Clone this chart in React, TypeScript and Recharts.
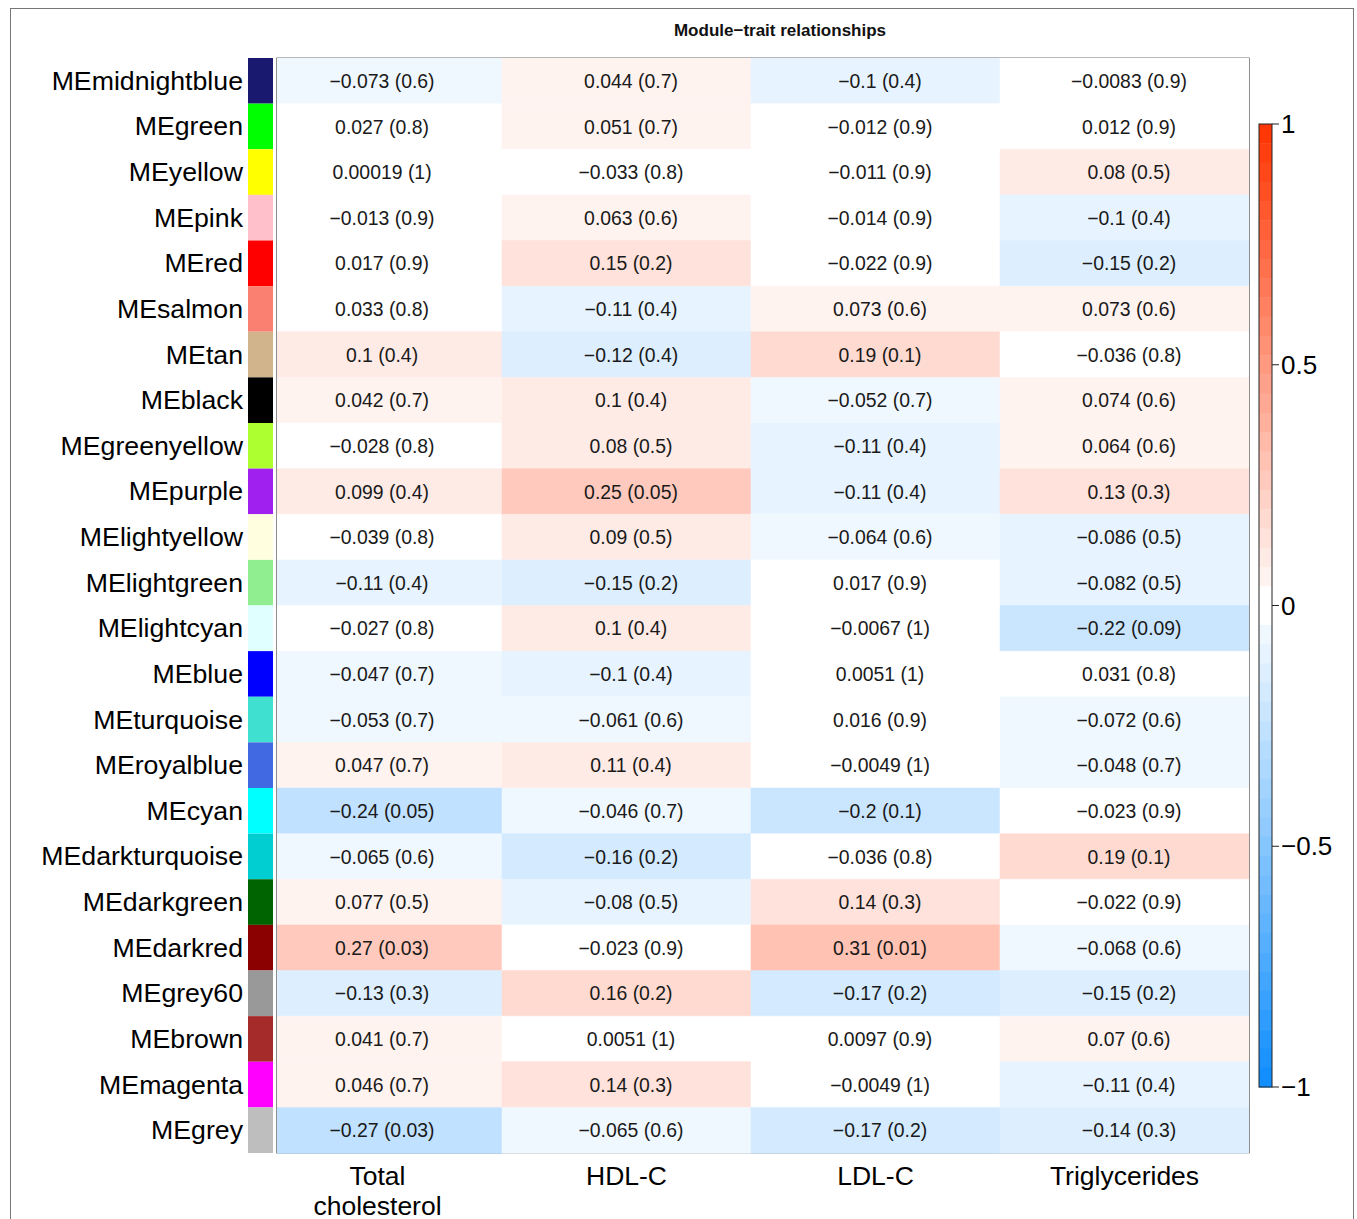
import React from 'react';
import { BarChart, Bar, XAxis, YAxis, Cell, LabelList, Legend, ReferenceArea } from 'recharts';

// module eigengenes, top to bottom
const modules = [
  'MEmidnightblue', 'MEgreen', 'MEyellow', 'MEpink', 'MEred', 'MEsalmon', 'MEtan', 'MEblack',
  'MEgreenyellow', 'MEpurple', 'MElightyellow', 'MElightgreen', 'MElightcyan', 'MEblue',
  'MEturquoise', 'MEroyalblue', 'MEcyan', 'MEdarkturquoise', 'MEdarkgreen', 'MEdarkred',
  'MEgrey60', 'MEbrown', 'MEmagenta', 'MEgrey',
];
const moduleColors = [
  '#191970', '#00FF00', '#FFFF00', '#FFC0CB', '#FF0000', '#FA8072', '#D2B48C', '#000000',
  '#ADFF2F', '#A020F0', '#FFFFE0', '#90EE90', '#E0FFFF', '#0000FF',
  '#40E0D0', '#4169E1', '#00FFFF', '#00CED1', '#006400', '#8B0000',
  '#999999', '#A52A2A', '#FF00FF', '#BEBEBE',
];
const traits = ['Total\ncholesterol', 'HDL-C', 'LDL-C', 'Triglycerides'];

const corTotal = [-0.073, 0.027, 0.00019, -0.013, 0.017, 0.033, 0.1, 0.042, -0.028, 0.099, -0.039, -0.11,
  -0.027, -0.047, -0.053, 0.047, -0.24, -0.065, 0.077, 0.27, -0.13, 0.041, 0.046, -0.27];
const pTotal = [0.6, 0.8, 1, 0.9, 0.9, 0.8, 0.4, 0.7, 0.8, 0.4, 0.8, 0.4,
  0.8, 0.7, 0.7, 0.7, 0.05, 0.6, 0.5, 0.03, 0.3, 0.7, 0.7, 0.03];
const corHDL = [0.044, 0.051, -0.033, 0.063, 0.15, -0.11, -0.12, 0.1, 0.08, 0.25, 0.09, -0.15,
  0.1, -0.1, -0.061, 0.11, -0.046, -0.16, -0.08, -0.023, 0.16, 0.0051, 0.14, -0.065];
const pHDL = [0.7, 0.7, 0.8, 0.6, 0.2, 0.4, 0.4, 0.4, 0.5, 0.05, 0.5, 0.2,
  0.4, 0.4, 0.6, 0.4, 0.7, 0.2, 0.5, 0.9, 0.2, 1, 0.3, 0.6];
const corLDL = [-0.1, -0.012, -0.011, -0.014, -0.022, 0.073, 0.19, -0.052, -0.11, -0.11, -0.064, 0.017,
  -0.0067, 0.0051, 0.016, -0.0049, -0.2, -0.036, 0.14, 0.31, -0.17, 0.0097, -0.0049, -0.17];
const pLDL = [0.4, 0.9, 0.9, 0.9, 0.9, 0.6, 0.1, 0.7, 0.4, 0.4, 0.6, 0.9,
  1, 1, 0.9, 1, 0.1, 0.8, 0.3, 0.01, 0.2, 0.9, 1, 0.2];
const corTG = [-0.0083, 0.012, 0.08, -0.1, -0.15, 0.073, -0.036, 0.074, 0.064, 0.13, -0.086, -0.082,
  -0.22, 0.031, -0.072, -0.048, -0.023, 0.19, -0.022, -0.068, -0.15, 0.07, -0.11, -0.14];
const pTG = [0.9, 0.9, 0.5, 0.4, 0.2, 0.6, 0.8, 0.6, 0.6, 0.3, 0.5, 0.5,
  0.09, 0.8, 0.6, 0.7, 0.9, 0.1, 0.9, 0.6, 0.2, 0.6, 0.4, 0.3];

const legendTicks = [1, 0.5, 0, -0.5, -1];

const columns = [
  { cor: corTotal, p: pTotal },
  { cor: corHDL, p: pHDL },
  { cor: corLDL, p: pLDL },
  { cor: corTG, p: pTG },
];

const W = 1357;
const H = 1219;
const PLOT_TOP = 58;
const PLOT_BOTTOM = 1153;
const ROW_H = (PLOT_BOTTOM - PLOT_TOP) / modules.length;
// the first column starts under the module colour strip, so the visible
// x range begins a bit after 0 (24px of a 249px column)
const X_MIN = 24 / 249;

// blueWhiteRed-like palette, 50 steps over [-1, 1]
const RED_END = [255, 51, 0];
const BLUE_END = [13, 140, 255];
function heatColor(v: number) {
  const k = Math.floor(Math.abs(v) / 0.04);
  const f = k === 0 ? 0 : Math.min(1, (k + 0.5) * 0.04);
  const end = v > 0 ? RED_END : BLUE_END;
  const c = end.map((e) => Math.round(255 + (e - 255) * f));
  return `rgb(${c[0]},${c[1]},${c[2]})`;
}

const fmt = (v: number) => (v < 0 ? '\u2212' : '') + String(Math.abs(v));

const rows = modules.map((name, i) => {
  const row: Record<string, string | number> = { name };
  columns.forEach((col, j) => {
    row[`c${j}`] = 1;
    row[`t${j}`] = `${fmt(col.cor[i])} (${col.p[i]})`;
  });
  return row;
});

const ModuleTick = (props: any) => {
  const { x, y, payload } = props;
  const idx = modules.indexOf(payload.value);
  return (
    <g>
      <rect x={x - 29} y={y - ROW_H / 2} width={25} height={ROW_H} fill={moduleColors[idx]} />
      <text x={x - 34} y={y} dy={9} textAnchor="end" fontSize={26.7} fill="#000">
        {payload.value}
      </text>
    </g>
  );
};

const TraitTick = (props: any) => {
  const { x, y, payload } = props;
  const idx = Math.floor(payload.value);
  const lines = traits[idx].split('\n');
  return (
    <text x={x} y={y} textAnchor="middle" fontSize={26.5} fill="#000">
      {lines.map((l, k) => (
        <tspan key={k} x={x} dy={k === 0 ? 32 : 30}>{l}</tspan>
      ))}
    </text>
  );
};

const ColorBar = () => {
  const top = 14;
  const barH = 963;
  const steps = Array.from({ length: 50 }, (_, i) => 1 - (i + 0.5) * 0.04);
  const yOf = (v: number) => top + ((1 - v) / 2) * barH;
  return (
    <svg width={107} height={1000}>
      {steps.map((v, i) => (
        <rect key={i} x={9} y={top + (i * barH) / 50} width={13} height={barH / 50 + 0.5} fill={heatColor(v)} />
      ))}
      <rect x={9} y={top} width={13} height={barH} fill="none" stroke="#222" strokeWidth={1} />
      {legendTicks.map((t) => (
        <g key={t}>
          <line x1={22} x2={29} y1={yOf(t)} y2={yOf(t)} stroke="#222" strokeWidth={1} />
          <text x={31} y={yOf(t)} dy={9} fontSize={26} fill="#000">{fmt(t)}</text>
        </g>
      ))}
    </svg>
  );
};

export default function App() {
  return (
    <div
      style={{
        position: 'absolute', left: 0, top: 0, width: W, height: H, overflow: 'hidden',
        background: '#fff', fontFamily: '"Liberation Sans", Arial, sans-serif',
      }}
    >
      <div
        style={{
          position: 'absolute', left: 10, top: 8, width: 1344, height: 1240,
          border: '1px solid #777', boxSizing: 'border-box',
        }}
      />
      <div
        style={{
          position: 'absolute', left: 580, top: 22, width: 400, textAlign: 'center',
          fontSize: 17, fontWeight: 'bold', lineHeight: '18px', color: '#111',
        }}
      >
        Module{'\u2212'}trait relationships
      </div>
      <BarChart
        width={W}
        height={H}
        data={rows}
        layout="vertical"
        barCategoryGap={0}
        margin={{ top: PLOT_TOP, right: 108, bottom: 0, left: 0 }}
      >
        <XAxis
          type="number"
          domain={[X_MIN, 4]}
          allowDataOverflow
          ticks={[0.5, 1.5, 2.5, 3.5]}
          height={H - PLOT_BOTTOM}
          axisLine={false}
          tickLine={false}
          tickSize={0}
          tickMargin={0}
          tick={<TraitTick />}
          interval={0}
        />
        <YAxis
          type="category"
          dataKey="name"
          width={277}
          axisLine={false}
          tickLine={false}
          tickSize={0}
          tickMargin={0}
          interval={0}
          tick={<ModuleTick />}
        />
        {columns.map((col, j) => (
          <Bar key={j} dataKey={`c${j}`} stackId="a" isAnimationActive={false}>
            {rows.map((_, i) => (
              <Cell key={i} fill={heatColor(col.cor[i])} stroke={heatColor(col.cor[i])} strokeWidth={0.5} />
            ))}
            {/* first bar is clamped at the plot edge, so its centre sits further right */}
            <LabelList dataKey={`t${j}`} position="center" dx={j === 0 ? -7.5 : 4.5} fill="#1a1a1a" fontSize={19.4} />
          </Bar>
        ))}
        <ReferenceArea x1={X_MIN} x2={4} fill="none" stroke="#444" strokeWidth={1.2} ifOverflow="visible" />
        <Legend
          layout="vertical"
          align="center"
          verticalAlign="middle"
          content={<ColorBar />}
          wrapperStyle={{ left: 1250, top: 110, width: 107, height: 1000 }}
        />
      </BarChart>
    </div>
  );
}
